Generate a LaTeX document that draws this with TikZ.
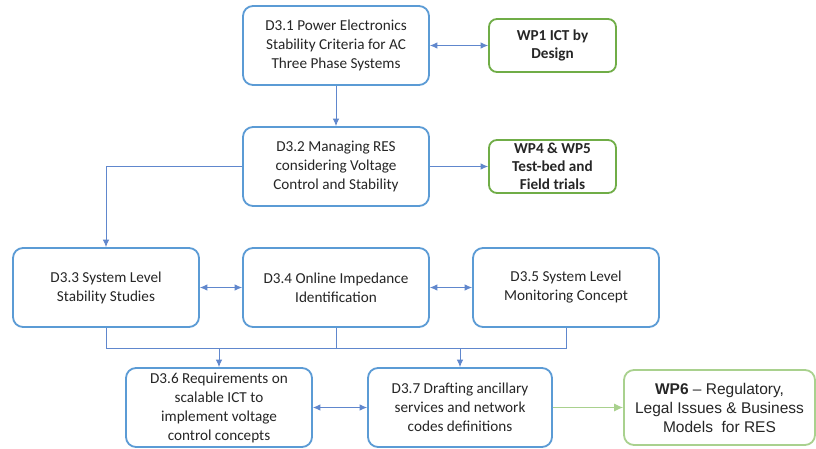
\documentclass[tikz,border=0pt]{standalone}
\usepackage{fontspec}
\setmainfont{Carlito}
\newfontfamily\arialf{Liberation Sans}
\usetikzlibrary{arrows.meta,positioning}
\definecolor{boxblue}{HTML}{5B9BD5}
\definecolor{lineblue}{HTML}{4472C4}
\definecolor{boxgreen}{HTML}{70AD47}
\definecolor{ltgreen}{HTML}{A9D18E}
\definecolor{txt}{HTML}{262626}
\tikzset{
  blubox/.style={draw=boxblue, line width=1.8pt, rounded corners=10pt, minimum width=186pt, minimum height=79pt, align=center, text=txt, font=\fontsize{15.2}{19}\selectfont, inner sep=2pt},
  grnbox/.style={draw=boxgreen, line width=1.8pt, rounded corners=8pt, minimum width=127pt, minimum height=53pt, align=center, text=txt, font=\fontsize{15.2}{18}\selectfont\bfseries, inner sep=2pt},
  wpbox/.style={draw=ltgreen, line width=1.8pt, rounded corners=10pt, minimum width=191pt, minimum height=75pt, align=center, text=txt, font=\arialf\fontsize{15.5}{19}\selectfont, inner sep=2pt},
  conn/.style={draw=lineblue!85!white, line width=0.9pt},
  arr/.style={conn, -{Latex[length=7.5pt,width=6.5pt]}},
  biarr/.style={conn, {Latex[length=7.5pt,width=6.5pt]}-{Latex[length=7.5pt,width=6.5pt]}},
  grnarr/.style={draw=ltgreen, line width=1pt, -{Latex[length=9pt,width=8pt]}}
}
\begin{document}
\begin{tikzpicture}[x=1pt,y=-1pt]
\useasboundingbox[fill=white] (0,0) rectangle (816,448);
\node[blubox] (d31) at (336,45.5) {D3.1 Power Electronics\\Stability Criteria for AC\\Three Phase Systems};
\node[grnbox] (wp1) at (552.5,45.5) {WP1 ICT by\\Design};
\node[blubox] (d32) at (336,166.5) {D3.2 Managing RES\\considering Voltage\\Control and Stability};
\node[grnbox] (wp4) at (552.5,166.5) {WP4 \& WP5\\Test-bed and\\Field trials};
\node[blubox] (d33) at (106,287.5) {D3.3 System Level\\Stability Studies};
\node[blubox] (d34) at (336,287.5) {D3.4 Online Impedance\\Identification};
\node[blubox] (d35) at (566,287.5) {D3.5 System Level\\Monitoring Concept};
\node[blubox] (d36) at (219,407.5) {D3.6 Requirements on\\scalable ICT to\\implement voltage\\control concepts};
\node[blubox, minimum width=184pt] (d37) at (460,407.5) {D3.7 Drafting ancillary\\services and network\\codes definitions};
\node[wpbox] (wp6) at (719.5,407.5) {\textbf{WP6} \textendash{} Regulatory,\\Legal Issues \& Business\\Models\ \ for RES};
\coordinate (bus) at (0,348);
\draw[biarr] (d31) -- (wp1);
\draw[arr] (d31) -- (d32);
\draw[arr] (d32) -- (wp4);
\draw[arr] (d32.west) -| (d33.north);
\draw[biarr] (d33) -- (d34);
\draw[biarr] (d34) -- (d35);
\draw[conn] (d33.south) -- (d33.south |- bus) -- (d35.south |- bus) -- (d35.south);
\draw[conn] (d34.south) -- (d34.south |- bus);
\draw[arr] (d36.north |- bus) -- (d36.north);
\draw[arr] (d37.north |- bus) -- (d37.north);
\draw[biarr] (d36) -- (d37);
\draw[grnarr] (d37) -- (wp6);
\end{tikzpicture}
\end{document}
